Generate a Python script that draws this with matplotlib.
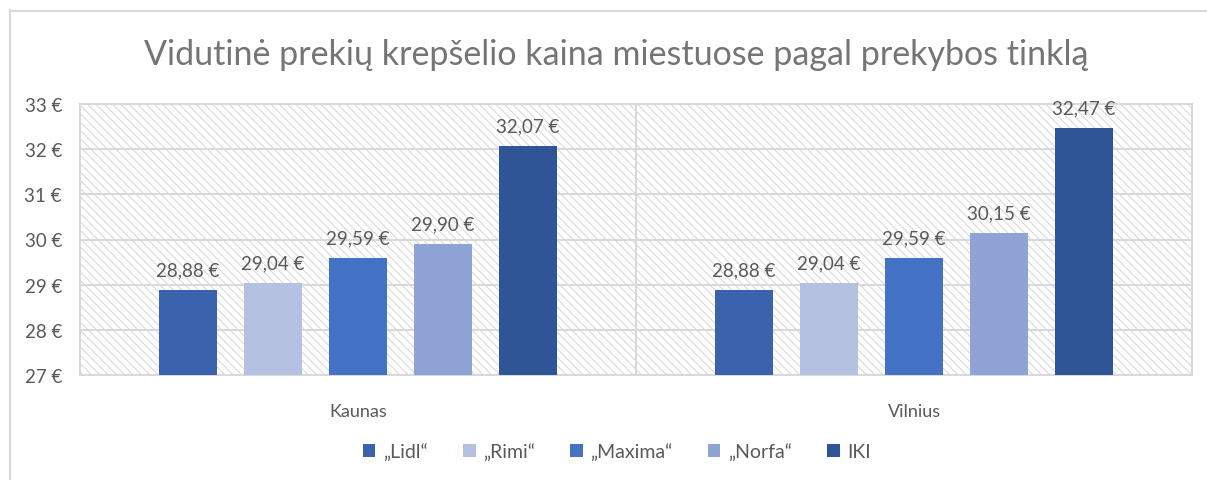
import numpy as np
import matplotlib.pyplot as plt
from matplotlib.patches import Rectangle
from matplotlib.lines import Line2D

plt.rcParams['font.family'] = ['Lato', 'DejaVu Sans']

cities = ["Kaunas", "Vilnius"]
stores = ["„Lidl“", "„Rimi“", "„Maxima“", "„Norfa“", "IKI"]
prices = {
    "„Lidl“": [28.88, 28.88],
    "„Rimi“": [29.04, 29.04],
    "„Maxima“": [29.59, 29.59],
    "„Norfa“": [29.90, 30.15],
    "IKI": [32.07, 32.47],
}
yticks = [27, 28, 29, 30, 31, 32, 33]

colors = ["#3A62AD", "#B5C1E1", "#4472C4", "#8FA4D5", "#2F5597"]
text_color = "#595959"
grid_color = "#D9D9D9"

W, H = 1207, 481
fig = plt.figure(figsize=(W / 100, H / 100), dpi=100)

# outer chart frame (partly cropped in the original)
fig.add_artist(Line2D([9.5 / W, 9.5 / W], [0, 1 - 11 / H], color=grid_color, lw=1.5))
fig.add_artist(Line2D([9.5 / W, 1], [1 - 11.5 / H, 1 - 11.5 / H], color=grid_color, lw=1.5))

ax = fig.add_axes([80 / W, (H - 376) / H, 1112 / W, 271 / H])

# hatched plot area
plt.rcParams['hatch.linewidth'] = 0.6
bg = Rectangle((0, 0), 1, 1, transform=ax.transAxes, facecolor="white",
               edgecolor="#D0D0D0", hatch="\\\\\\\\", lw=0, zorder=0)
ax.add_patch(bg)

x = np.arange(len(cities))
pitch = 0.153
width = 0.104
for i, s in enumerate(stores):
    pos = x + (i - 2) * pitch
    bars = ax.bar(pos, np.array(prices[s]) - yticks[0], width, bottom=yticks[0],
                  color=colors[i], label=s, zorder=3)
    for b, v in zip(bars, prices[s]):
        ax.text(b.get_x() + b.get_width() / 2, v + 0.26,
                f"{v:.2f}".replace(".", ",") + " €",
                ha="center", va="bottom", fontsize=13.5, color=text_color, zorder=4)

ax.set_xlim(-0.5, 1.5)
ax.set_ylim(27, 33)
ax.set_yticks(yticks)
ax.set_yticklabels([f"{t} €" for t in yticks], fontsize=13.5, color=text_color)
ax.set_xticks(x)
ax.set_xticklabels(cities, fontsize=13, color=text_color)
ax.tick_params(length=0)
ax.tick_params(axis="y", pad=13)
ax.tick_params(axis="x", pad=20)

for y in yticks:
    ax.axhline(y, color=grid_color, lw=1.5, zorder=1)
ax.axvline(0.5, color=grid_color, lw=1.5, zorder=1)
for sp in ax.spines.values():
    sp.set_color(grid_color)
    sp.set_linewidth(1.5)

fig.text(616 / W, 1 - 55 / H, "Vidutinė prekių krepšelio kaina miestuose pagal prekybos tinklą",
         ha="center", va="center", fontsize=24.5, color="#757575")

fig.legend(loc="center", bbox_to_anchor=(617 / W, 1 - 452 / H), ncol=5, frameon=False,
           fontsize=14, handlelength=0.65, handleheight=0.65, handletextpad=0.4,
           columnspacing=1.8, labelcolor=text_color)

fig.savefig("out.png", dpi=100)
